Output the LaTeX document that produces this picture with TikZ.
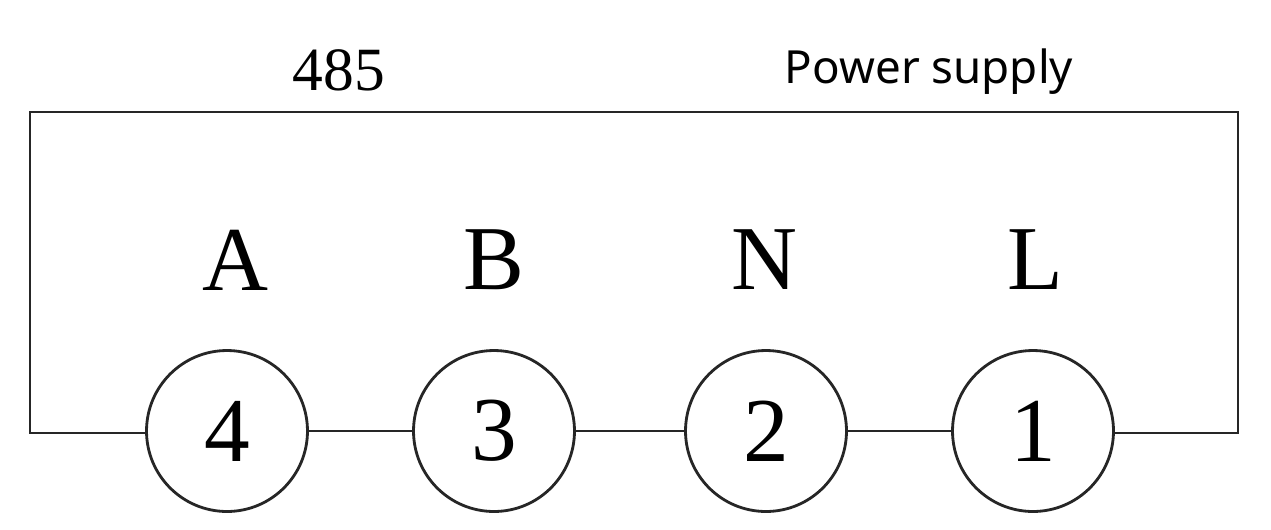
\documentclass[tikz,border=0pt]{standalone}
\usepackage{fontspec}
\setmainfont{Liberation Serif}
\newfontfamily\supplyfont{Noto Sans}
\usepackage{tikz}

\begin{document}
\begin{tikzpicture}[x=0.02cm, y=-0.02cm, line width=1.6pt, draw=black!85,
    term/.style={draw, circle, minimum size=3.22cm, inner sep=0pt, font=\fontsize{52}{52}\selectfont},
    pin/.style={font=\fontsize{52}{52}\selectfont}]
            \useasboundingbox (0, 0) rectangle (1271, 529);

            \node (head) [anchor=base] at (339, 90) {\fontsize{35}{35}\selectfont 485};
            \node (supply) [anchor=base] at (929, 83) {\supplyfont\fontsize{26}{26}\selectfont Power supply};

            \node[pin] (pA) at (235, 260) {A};
            \node[pin] (pB) at (494, 260) {B};
            \node[pin] (pN) at (764, 260) {N};
            \node[pin] (pL) at (1035, 260) {L};

            \node[term] (t4) at (227, 431) {4};
            \node[term] (t3) at (494, 431) {3};
            \node[term] (t2) at (766, 431) {2};
            \node[term] (t1) at (1033, 431) {1};

            \coordinate (bl) at (30, 433);
            \coordinate (tl) at (30, 112);
            \coordinate (tr) at (1238, 112);
            \coordinate (br) at (1238, 433);

            \draw (t4.west |- bl) -- (bl) -- (tl) -- (tr) -- (br) -- (t1.east |- br);
            \draw (t4) -- (t3);
            \draw (t3) -- (t2);
            \draw (t2) -- (t1);
        \end{tikzpicture}
\end{document}
